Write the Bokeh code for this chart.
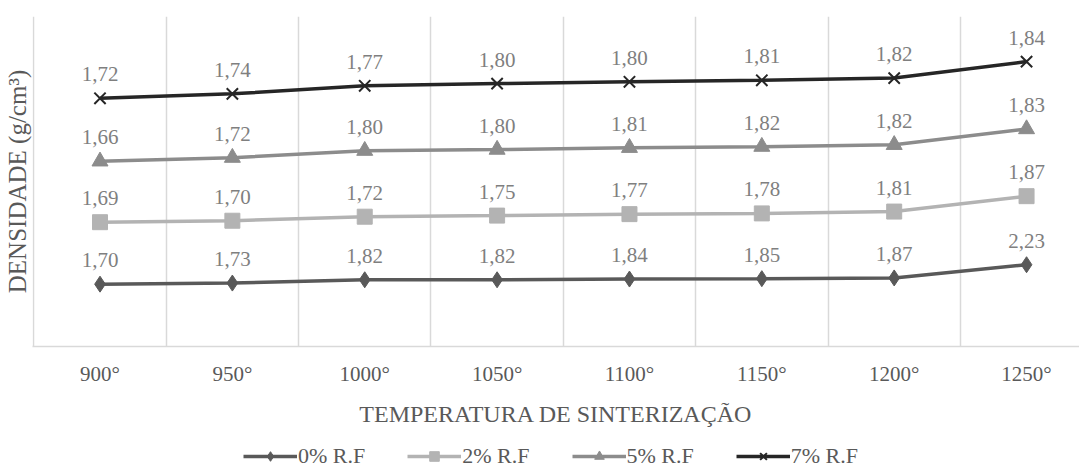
from bokeh.plotting import figure
from bokeh.layouts import column
from bokeh.models import FixedTicker, Legend, LegendItem, ColumnDataSource, Range1d
from bokeh.core.properties import value
from bokeh.embed import file_html
from bokeh.resources import INLINE

categories = ["900°", "950°", "1000°", "1050°", "1100°", "1150°", "1200°", "1250°"]
s0 = [1.70, 1.73, 1.82, 1.82, 1.84, 1.85, 1.87, 2.23]
s2 = [1.69, 1.70, 1.72, 1.75, 1.77, 1.78, 1.81, 1.87]
s5 = [1.66, 1.72, 1.80, 1.80, 1.81, 1.82, 1.82, 1.83]
s7 = [1.72, 1.74, 1.77, 1.80, 1.80, 1.81, 1.82, 1.84]
names = ["0% R.F", "2% R.F", "5% R.F", "7% R.F"]
colors = ["#595959", "#b3b3b3", "#8c8c8c", "#262626"]
markers = ["diamond", "square", "triangle", "x"]

FONT = "Liberation Serif"

p = figure(width=1079, height=429, output_backend="svg", toolbar_location=None,
           x_range=Range1d(-0.51, 7.4), y_range=Range1d(0, 9),
           min_border_left=28, min_border_right=0, min_border_top=16,
           min_border_bottom=0)
p.outline_line_color = None
p.background_fill_color = "white"
p.border_fill_color = "white"

# legend-only strip
lg = figure(width=1079, height=40, output_backend="svg", toolbar_location=None,
            x_range=Range1d(0, 1), y_range=Range1d(0, 1),
            min_border_left=0, min_border_right=0, min_border_top=0, min_border_bottom=0)
lg.outline_line_color = None
lg.axis.visible = False
lg.grid.visible = False

xs = list(range(len(categories)))
series = [s0, s2, s5, s7]
cum = [0.0] * len(categories)
items = []
for vals, name, col, mk in zip(series, names, colors, markers):
    cum = [c + v for c, v in zip(cum, vals)]
    src = ColumnDataSource(dict(x=xs, y=cum, lab=[f"{v:.2f}".replace(".", ",") for v in vals]))
    p.line("x", "y", source=src, line_color=col, line_width=3.5)
    if mk == "x":
        p.scatter("x", "y", source=src, marker="x", size=16, line_color=col, line_width=2)
    else:
        sz = 16 if mk != "square" else 15
        p.scatter("x", "y", source=src, marker=mk, size=sz, fill_color=col, line_color=col)
    p.text("x", "y", text="lab", source=src, text_align="center", text_baseline="bottom",
           y_offset=-17, text_font=value(FONT), text_font_size="21px", text_color="#7f7f7f")
    # legend proxies (placed outside the visible range of the strip)
    l1 = lg.line(x=[5, 6], y=[5, 6], line_color=col, line_width=3.5)
    if mk == "x":
        l2 = lg.scatter(x=[5], y=[5], marker="x", size=15, line_color=col, line_width=2)
    else:
        l2 = lg.scatter(x=[5], y=[5], marker=mk, size=15, fill_color=col, line_color=col)
    items.append(LegendItem(label=name, renderers=[l1, l2]))

p.xaxis.ticker = FixedTicker(ticks=xs)
p.xaxis.major_label_overrides = {i: c for i, c in enumerate(categories)}
p.xaxis.major_tick_line_color = None
p.xaxis.minor_tick_line_color = None
p.xaxis.axis_line_color = "#d9d9d9"
p.xaxis.axis_line_width = 1.5
p.xaxis.major_label_text_font = FONT
p.xaxis.major_label_text_font_size = "21px"
p.xaxis.major_label_text_color = "#595959"
p.xaxis.major_label_standoff = 9
p.xaxis.axis_label = "TEMPERATURA DE SINTERIZAÇÃO"
p.xaxis.axis_label_text_font = FONT
p.xaxis.axis_label_text_font_size = "24px"
p.xaxis.axis_label_text_font_style = "normal"
p.xaxis.axis_label_text_color = "#595959"
p.xaxis.axis_label_standoff = 12

p.yaxis.ticker = FixedTicker(ticks=[])
p.yaxis.axis_line_color = None
p.yaxis.major_tick_line_color = None
p.yaxis.minor_tick_line_color = None
p.yaxis.axis_label = "DENSIDADE (g/cm³)"
p.yaxis.axis_label_text_font = FONT
p.yaxis.axis_label_text_font_size = "25px"
p.yaxis.axis_label_text_font_style = "normal"
p.yaxis.axis_label_text_color = "#595959"
p.yaxis.axis_label_standoff = 2

p.xgrid.ticker = FixedTicker(ticks=[i - 0.5 for i in range(len(categories) + 1)])
p.xgrid.grid_line_color = "#d9d9d9"
p.xgrid.grid_line_width = 1.5
p.ygrid.grid_line_color = None

legend = Legend(items=items, orientation="horizontal", location=(211, 0),
                border_line_color=None, background_fill_alpha=0,
                label_text_font=FONT, label_text_font_size="22px",
                label_text_color="#595959", glyph_width=54, glyph_height=24,
                label_standoff=1, spacing=42, padding=0, margin=0)
lg.add_layout(legend, "center")

layout = column(p, lg, spacing=0)
open("out.html", "w").write(file_html(layout, INLINE))
